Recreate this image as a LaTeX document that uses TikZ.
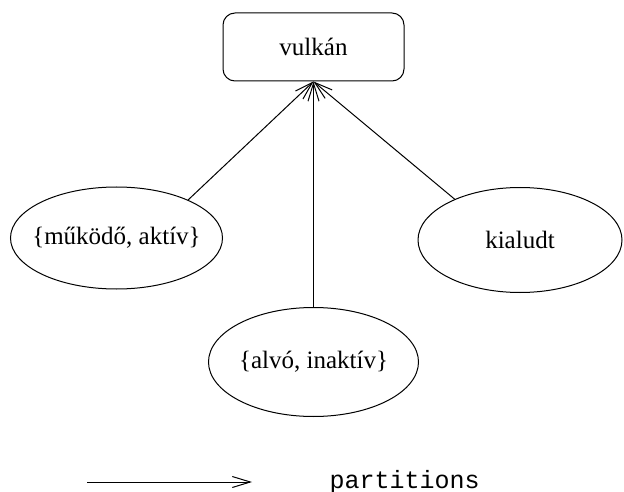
\documentclass[tikz,border=0pt]{standalone}
\usepackage{fontspec}
\setmainfont{Liberation Serif}
\setmonofont{Liberation Mono}
\usetikzlibrary{shapes.geometric,arrows.meta}
\begin{document}
\begin{tikzpicture}[x=1pt,y=-1pt,
  every node/.style={font=\fontsize{25}{29}\selectfont},
  cls/.style={draw,line width=1pt,rounded corners=12pt,minimum width=181pt,minimum height=68pt,inner sep=0pt},
  part/.style={draw,line width=1pt,ellipse,inner xsep=-40pt,inner ysep=0pt},
  rel/.style={line width=1pt,-{Straight Barb[length=18pt,width=11pt,line width=1pt]}}]
\useasboundingbox (0,0) rectangle (624,492);
\node[cls] (v) at (313.5,47) {vulkán};
\node[part,minimum width=212pt,minimum height=102pt] (a) at (116.5,238) {\{működő, aktív\}};
\node[part,minimum width=210pt,minimum height=109pt] (b) at (313.5,362) {\{alvó, inaktív\}};
\node[part,minimum width=204pt,minimum height=105pt] (c) at (520,240) {kialudt};
\draw[rel] (a.28) -- (v.south);
\draw[rel] (b) -- (v.south);
\draw[rel] (c.148) -- (v.south);
\coordinate (l1) at (87,482);
\coordinate (l2) at (252,482);
\draw[rel] (l1) -- (l2);
\node[anchor=west,font=\ttfamily\fontsize{25}{29}\selectfont] (t) at (326,482) {partitions};
\end{tikzpicture}
\end{document}
